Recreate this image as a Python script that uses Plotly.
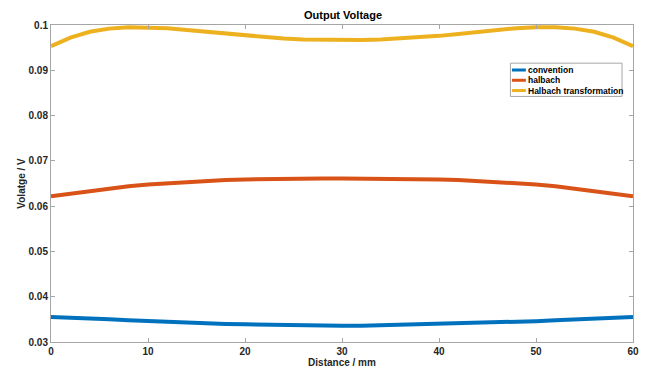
import plotly.graph_objects as go

distance = [0, 2, 4, 6, 8, 10, 12, 14, 16, 18, 20, 22, 24, 26, 28, 30,
            32, 34, 36, 38, 40, 42, 44, 46, 48, 50, 52, 54, 56, 58, 60]
half_conv = [0.0355, 0.0354, 0.0352, 0.0350, 0.0348, 0.0346, 0.0344, 0.0342,
             0.0341, 0.0340, 0.0339, 0.0338, 0.0337, 0.0337, 0.0336, 0.0336]
half_halb = [0.0622, 0.0628, 0.0634, 0.0639, 0.0644, 0.0648, 0.0651, 0.0654,
             0.0656, 0.0658, 0.0659, 0.0660, 0.0661, 0.0661, 0.0661, 0.0661]
half_trans = [0.0953, 0.0972, 0.0985, 0.0992, 0.0995, 0.0995, 0.0993, 0.0989,
              0.0985, 0.0980, 0.0976, 0.0972, 0.0970, 0.0968, 0.0967, 0.0967]
convention = half_conv + half_conv[-2::-1]
halbach = half_halb + half_halb[-2::-1]
halbach_trans = half_trans + half_trans[-2::-1]

names = ["convention", "halbach", "Halbach transformation"]
colors = ["#0072BD", "#D95319", "#EDB120"]
series = [convention, halbach, halbach_trans]

y_ticks = [0.03, 0.04, 0.05, 0.06, 0.07, 0.08, 0.09, 0.1]
y_ticktext = ["0.03", "0.04", "0.05", "0.06", "0.07", "0.08", "0.09", "0.1"]
x_ticks = [0, 10, 20, 30, 40, 50, 60]

FONT = "Liberation Sans, Arial, sans-serif"
L, R, T, B = 51, 16, 25, 29
W, H = 651, 378
PW, PH = W - L - R, H - T - B

fig = go.Figure()
for name, col, ys in zip(names, colors, series):
    fig.add_trace(go.Scatter(x=distance, y=ys, mode="lines", name=name,
                             line=dict(color=col, width=4), showlegend=False))

axis_common = dict(showline=True, linecolor="#a6a6a6", linewidth=1, mirror="allticks",
                   ticks="inside", ticklen=4, tickcolor="#a6a6a6", showgrid=False,
                   zeroline=False,
                   tickfont=dict(family=FONT, size=10, color="#262626", weight="bold"))

fig.update_layout(
    width=W, height=H,
    margin=dict(l=L, r=R, t=T, b=B),
    paper_bgcolor="white", plot_bgcolor="white",
    title=dict(text="<b>Output Voltage</b>", x=(L + PW / 2) / W, xanchor="center",
               y=1 - 15 / H, yanchor="middle",
               font=dict(family=FONT, size=11, color="#000000")),
    xaxis=dict(range=[0, 60], tickvals=x_ticks,
               title=dict(text="<b>Distance / mm</b>", standoff=2,
                          font=dict(family=FONT, size=10, color="#262626")),
               **axis_common),
    yaxis=dict(range=[0.03, 0.1], tickvals=y_ticks, ticktext=y_ticktext,
               title=dict(text="<b>Volatge / V</b>", standoff=1,
                          font=dict(family=FONT, size=10, color="#262626")),
               **axis_common),
)

def px_x(px):
    return (px - L) / PW

def px_y(py):
    return (H - B - py) / PH

# legend box
fig.add_shape(type="rect", xref="paper", yref="paper",
              x0=px_x(512), x1=px_x(624), y0=px_y(98), y1=px_y(64),
              line=dict(color="#a6a6a6", width=1), fillcolor="white", layer="above")
entry_y = [71, 81.5, 92]
for name, col, ey in zip(names, colors, entry_y):
    fig.add_shape(type="line", xref="paper", yref="paper",
                  x0=px_x(513.5), x1=px_x(527.5), y0=px_y(ey), y1=px_y(ey),
                  line=dict(color=col, width=3), layer="above")
    fig.add_annotation(xref="paper", yref="paper", x=px_x(527.5), y=px_y(ey),
                       text="<b>" + name + "</b>", showarrow=False,
                       xanchor="left", yanchor="middle",
                       font=dict(family=FONT, size=8.5, color="#000000"))

fig.write_html("out.html")
